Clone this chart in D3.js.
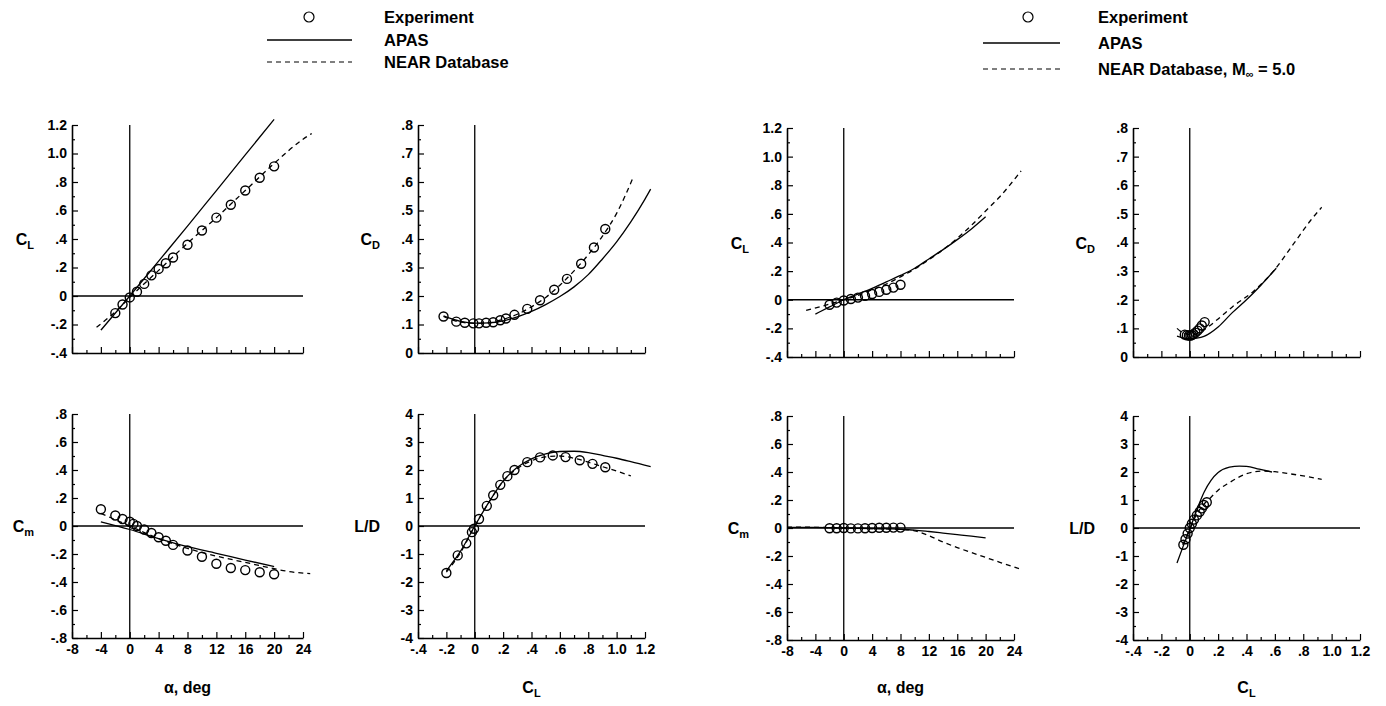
<!DOCTYPE html>
<html><head><meta charset="utf-8">
<script src="https://cdn.jsdelivr.net/npm/d3@7"></script>
<style>
body{margin:0;background:#fff}
text{font-family:"Liberation Sans",Arial,Helvetica,sans-serif;font-weight:bold;fill:#000}
</style>
</head><body><svg id="c" width="1386" height="706"></svg>
<script>
// ---------- tick values ----------
const alphaTicks = [-8,-4,0,4,8,12,16,20,24];
const alphaMinor = [-6,-2,2,6,10,14,18,22];
const clXTicks = [-0.4,-0.2,0,0.2,0.4,0.6,0.8,1.0,1.2];
const clXMinor = [-0.3,-0.1,0.1,0.3,0.5,0.7,0.9,1.1];
const clYTicks = [-0.4,-0.2,0,0.2,0.4,0.6,0.8,1.0,1.2];
const clYMinor = [-0.3,-0.1,0.1,0.3,0.5,0.7,0.9,1.1];
const cdTicks = [0,0.1,0.2,0.3,0.4,0.5,0.6,0.7,0.8];
const cdMinor = [0.05,0.15,0.25,0.35,0.45,0.55,0.65,0.75];
const cmTicks = [-0.8,-0.6,-0.4,-0.2,0,0.2,0.4,0.6,0.8];
const cmMinor = [-0.7,-0.5,-0.3,-0.1,0.1,0.3,0.5,0.7];
const ldTicks = [-4,-3,-2,-1,0,1,2,3,4];
const ldMinor = [-3.5,-2.5,-1.5,-0.5,0.5,1.5,2.5,3.5];

// ---------- left configuration ----------
// CL vs alpha
const aExpAlpha = [-2,-1,0,1,2,3,4,5,6,8,10,12,14,16,18,20];
const aExpCL    = [-0.12,-0.06,-0.01,0.03,0.085,0.145,0.19,0.23,0.27,0.36,0.46,0.55,0.64,0.74,0.83,0.91];
const aApasAlpha = [-4,0,4,8,12,16,20];
const aApasCL    = [-0.24,0,0.245,0.49,0.74,0.99,1.24];
const aNearAlpha = [-4.6,-2,0,4,8,12,16,20,24,25.2];
const aNearCL    = [-0.22,-0.11,-0.01,0.18,0.37,0.55,0.74,0.93,1.1,1.14];
// CD vs CL
const bExpCL = [-0.22,-0.13,-0.07,-0.01,0.03,0.08,0.13,0.18,0.22,0.28,0.37,0.46,0.56,0.65,0.75,0.84,0.92];
const bExpCD = [0.128,0.11,0.106,0.104,0.104,0.106,0.108,0.115,0.121,0.134,0.155,0.185,0.222,0.26,0.313,0.37,0.435];
const bApasCL = [-0.22,-0.1,0,0.1,0.2,0.3,0.4,0.5,0.6,0.7,0.8,0.9,1.0,1.1,1.2,1.24];
const bApasCD = [0.13,0.111,0.105,0.106,0.113,0.127,0.146,0.17,0.198,0.232,0.275,0.33,0.39,0.46,0.54,0.575];
const bNearCL = [-0.22,-0.1,0,0.1,0.2,0.3,0.4,0.5,0.6,0.7,0.8,0.9,1.0,1.12];
const bNearCD = [0.128,0.108,0.104,0.106,0.118,0.136,0.162,0.195,0.238,0.288,0.345,0.41,0.49,0.62];
// Cm vs alpha
const cExpAlpha = [-4,-2,-1,0,0.5,1,2,3,4,5,6,8,10,12,14,16,18,20];
const cExpCm    = [0.12,0.075,0.05,0.03,0.015,0.0,-0.025,-0.05,-0.08,-0.105,-0.135,-0.175,-0.22,-0.27,-0.3,-0.315,-0.33,-0.345];
const cApasAlpha = [-4,0,4,8,12,16,20];
const cApasCm    = [0.03,-0.025,-0.09,-0.148,-0.195,-0.243,-0.29];
const cNearAlpha = [-4,0,4,8,12,16,20,22,25];
const cNearCm    = [0.09,0.0,-0.09,-0.16,-0.215,-0.26,-0.305,-0.325,-0.34];
// L/D vs CL
const dExpCL = [-0.2,-0.12,-0.06,-0.02,-0.005,0.03,0.085,0.13,0.18,0.23,0.28,0.37,0.46,0.55,0.64,0.74,0.83,0.92];
const dExpLD = [-1.68,-1.05,-0.62,-0.22,-0.1,0.25,0.72,1.1,1.47,1.78,2.0,2.28,2.45,2.52,2.46,2.35,2.22,2.1];
const dApasCL = [-0.2,-0.1,0,0.1,0.2,0.3,0.4,0.5,0.6,0.7,0.8,0.9,1.0,1.1,1.24];
const dApasLD = [-1.6,-0.9,0.0,0.85,1.6,2.1,2.4,2.58,2.66,2.67,2.62,2.52,2.42,2.3,2.12];
const dNearCL = [-0.2,-0.1,0,0.1,0.2,0.3,0.4,0.5,0.6,0.7,0.8,0.9,1.0,1.1];
const dNearLD = [-1.65,-0.95,0,0.85,1.6,2.05,2.33,2.47,2.5,2.42,2.28,2.12,1.96,1.79];

// ---------- right configuration (M = 5.0) ----------
const eExpAlpha = [-2,-1,0,1,2,3,4,5,6,7,8];
const eExpCL    = [-0.035,-0.02,-0.005,0.005,0.015,0.027,0.04,0.055,0.07,0.085,0.105];
const eApasAlpha = [-4,-2,0,2,4,6,8,10,12,14,16,18,20];
const eApasCL    = [-0.1,-0.05,0,0.04,0.08,0.125,0.17,0.22,0.285,0.35,0.42,0.495,0.58];
const eNearAlpha = [-5.3,-2,0,2,4,6,8,10,12,14,16,18,20,22,25];
const eNearCL    = [-0.075,-0.03,0,0.03,0.07,0.11,0.16,0.215,0.28,0.35,0.43,0.52,0.62,0.72,0.9];

const fExpCL = [-0.035,-0.02,-0.005,0.005,0.015,0.027,0.04,0.055,0.07,0.085,0.105];
const fExpCD = [0.078,0.076,0.075,0.075,0.077,0.08,0.085,0.092,0.1,0.11,0.122];
const fApasCL = [-0.09,-0.05,0,0.05,0.1,0.2,0.3,0.4,0.5,0.61];
const fApasCD = [0.073,0.067,0.064,0.066,0.072,0.105,0.155,0.2,0.25,0.31];
const fNearCL = [-0.09,-0.05,0,0.05,0.1,0.2,0.3,0.45,0.59,0.73,0.85,0.93];
const fNearCD = [0.1,0.085,0.078,0.082,0.095,0.133,0.175,0.23,0.3,0.394,0.476,0.523];

const gExpAlpha = [-2,-1,0,1,2,3,4,5,6,7,8];
const gExpCm    = [-0.002,-0.002,0,-0.003,-0.003,-0.002,0,0.002,0.002,0.003,0.003];
const gApasAlpha = [-8,-4,0,4,8,10,12,14,16,18,20];
const gApasCm    = [0.004,0.004,0,-0.004,-0.009,-0.015,-0.025,-0.036,-0.047,-0.058,-0.07];
const gNearAlpha = [-8,-4,0,4,8,10,12,14,16,18,20,22,24.7];
const gNearCm    = [0.006,0.005,0,-0.004,-0.01,-0.02,-0.055,-0.1,-0.14,-0.175,-0.21,-0.245,-0.29];

const hExpCL = [-0.045,-0.03,-0.015,0,0.015,0.03,0.05,0.07,0.085,0.1,0.12];
const hExpLD = [-0.6,-0.4,-0.2,0.0,0.15,0.3,0.45,0.58,0.7,0.82,0.92];
const hApasCL = [-0.09,-0.05,0,0.05,0.1,0.15,0.2,0.28,0.35,0.4,0.49,0.58];
const hApasLD = [-1.25,-0.7,-0.05,0.65,1.27,1.7,1.98,2.17,2.21,2.2,2.1,2.0];
const hNearCL = [-0.05,0,0.05,0.1,0.15,0.2,0.28,0.39,0.5,0.6,0.7,0.8,0.93];
const hNearLD = [-0.6,-0.05,0.5,0.85,1.1,1.35,1.62,1.92,2.03,2.01,1.94,1.86,1.74];

// legend labels
const legendLeft = ["Experiment","APAS","NEAR Database"];
const legendRight = ["Experiment","APAS","NEAR Database, M"];

// ---------- drawing ----------
const svg = d3.select('#c');
function fmtDec(v){
  if (Math.abs(v) < 1e-9) return '0';
  let s = Math.abs(v).toFixed(1).replace(/^0\./,'.');
  return (v < 0 ? '-' : '') + s;
}
function fmtInt(v){ return (v<0?'-':'') + Math.abs(v); }
const noFmt = () => '';

function title(g, x, y, main, sub, anchor){
  const t = g.append('text').attr('x',x).attr('y',y).attr('text-anchor',anchor).style('font-size','16px');
  t.append('tspan').text(main);
  if (sub) t.append('tspan').attr('dy',4).style('font-size','11px').text(sub);
  return t;
}

function panel(p){
  const x = d3.scaleLinear().domain(p.xDom).range([p.x0,p.x1]);
  const y = d3.scaleLinear().domain(p.yDom).range([p.y1,p.y0]);
  const g = svg.append('g');
  g.append('g').attr('transform',`translate(${p.x0},0)`)
    .call(d3.axisLeft(y).tickValues(p.yMinor).tickSize(-3).tickFormat(''))
    .call(s=>s.select('.domain').remove());
  g.append('g').attr('transform',`translate(0,${p.y1})`)
    .call(d3.axisBottom(x).tickValues(p.xMinor).tickSize(-3).tickFormat(''))
    .call(s=>s.select('.domain').remove());
  const ay = g.append('g').attr('transform',`translate(${p.x0},0)`)
    .call(d3.axisLeft(y).tickValues(p.yTicks).tickSizeInner(-6).tickSizeOuter(0).tickPadding(5).tickFormat(p.yFmt));
  const ax = g.append('g').attr('transform',`translate(0,${p.y1})`)
    .call(d3.axisBottom(x).tickValues(p.xTicks).tickSizeInner(-6).tickSizeOuter(0).tickPadding(6).tickFormat(p.xLabels ? p.xFmt : noFmt));
  [ay,ax].forEach(a=>{
    a.attr('font-family',null).attr('font-size',null);
    a.selectAll('text').style('font-size','14px').attr('fill','#000');
    a.select('.domain').attr('stroke','#000').attr('stroke-width',1.6);
  });
  g.selectAll('.tick line').attr('stroke','#000').attr('stroke-width',1.2);
  g.append('line').attr('x1',x(0)).attr('x2',x(0)).attr('y1',p.y0).attr('y2',p.y1)
    .attr('stroke','#000').attr('stroke-width',1.3);
  if (p.yDom[0] < 0) g.append('line').attr('x1',p.x0).attr('x2',p.x1).attr('y1',y(0)).attr('y2',y(0))
    .attr('stroke','#000').attr('stroke-width',1.3);
  title(g, p.x0-38, (p.y0+p.y1)/2+6, p.yT[0], p.yT[1], 'end');
  if (p.xT) title(g, (p.x0+p.x1)/2, 693, p.xT[0], p.xT[1], 'middle');
  const line = d3.line().x(d=>x(d[0])).y(d=>y(d[1])).curve(d3.curveMonotoneX);
  g.append('path').datum(d3.zip(p.apas[0],p.apas[1])).attr('d',line)
    .attr('fill','none').attr('stroke','#000').attr('stroke-width',1.3);
  g.append('path').datum(d3.zip(p.near[0],p.near[1])).attr('d',line)
    .attr('fill','none').attr('stroke','#000').attr('stroke-width',1.3).attr('stroke-dasharray','5,4');
  g.selectAll('circle.e').data(d3.zip(p.exp[0],p.exp[1])).join('circle')
    .attr('cx',d=>x(d[0])).attr('cy',d=>y(d[1])).attr('r',4.5)
    .attr('fill','none').attr('stroke','#000').attr('stroke-width',1.4);
}

const L = {x0:72,x1:303}, LB={x0:418,x1:645}, R={x0:787,x1:1014}, RB={x0:1133,x1:1360};
const TOPL={y0:125,y1:353}, BOTL={y0:414,y1:638}, TOPR={y0:128,y1:357}, BOTR={y0:416,y1:640};

const alphaAx = {xDom:[-8,24], xTicks:alphaTicks, xMinor:alphaMinor, xFmt:fmtInt};
const clAx = {xDom:[-0.4,1.2], xTicks:clXTicks, xMinor:clXMinor, xFmt:fmtDec};

panel({...L,...TOPL,...alphaAx, yDom:[-0.4,1.2], yTicks:clYTicks, yMinor:clYMinor, yFmt:fmtDec, yT:['C','L'],
  exp:[aExpAlpha,aExpCL], apas:[aApasAlpha,aApasCL], near:[aNearAlpha,aNearCL]});
panel({...LB,...TOPL,...clAx, yDom:[0,0.8], yTicks:cdTicks, yMinor:cdMinor, yFmt:fmtDec, yT:['C','D'],
  exp:[bExpCL,bExpCD], apas:[bApasCL,bApasCD], near:[bNearCL,bNearCD]});
panel({...L,...BOTL,...alphaAx, xLabels:true, yDom:[-0.8,0.8], yTicks:cmTicks, yMinor:cmMinor, yFmt:fmtDec, yT:['C','m'], xT:['α, deg',null],
  exp:[cExpAlpha,cExpCm], apas:[cApasAlpha,cApasCm], near:[cNearAlpha,cNearCm]});
panel({...LB,...BOTL,...clAx, xLabels:true, yDom:[-4,4], yTicks:ldTicks, yMinor:ldMinor, yFmt:fmtInt, yT:['L/D',null], xT:['C','L'],
  exp:[dExpCL,dExpLD], apas:[dApasCL,dApasLD], near:[dNearCL,dNearLD]});

panel({...R,...TOPR,...alphaAx, yDom:[-0.4,1.2], yTicks:clYTicks, yMinor:clYMinor, yFmt:fmtDec, yT:['C','L'],
  exp:[eExpAlpha,eExpCL], apas:[eApasAlpha,eApasCL], near:[eNearAlpha,eNearCL]});
panel({...RB,...TOPR,...clAx, yDom:[0,0.8], yTicks:cdTicks, yMinor:cdMinor, yFmt:fmtDec, yT:['C','D'],
  exp:[fExpCL,fExpCD], apas:[fApasCL,fApasCD], near:[fNearCL,fNearCD]});
panel({...R,...BOTR,...alphaAx, xLabels:true, yDom:[-0.8,0.8], yTicks:cmTicks, yMinor:cmMinor, yFmt:fmtDec, yT:['C','m'], xT:['α, deg',null],
  exp:[gExpAlpha,gExpCm], apas:[gApasAlpha,gApasCm], near:[gNearAlpha,gNearCm]});
panel({...RB,...BOTR,...clAx, xLabels:true, yDom:[-4,4], yTicks:ldTicks, yMinor:ldMinor, yFmt:fmtInt, yT:['L/D',null], xT:['C','L'],
  exp:[hExpCL,hExpLD], apas:[hApasCL,hApasLD], near:[hNearCL,hNearLD]});

function legend(lx0, lx1, cx, tx, ys, labels, mach){
  const g = svg.append('g');
  g.append('circle').attr('cx',cx).attr('cy',ys[0]).attr('r',5).attr('fill','none').attr('stroke','#000').attr('stroke-width',1.2);
  g.append('line').attr('x1',lx0).attr('x2',lx1).attr('y1',ys[1]).attr('y2',ys[1]).attr('stroke','#000').attr('stroke-width',1.3);
  g.append('line').attr('x1',lx0).attr('x2',lx1).attr('y1',ys[2]).attr('y2',ys[2]).attr('stroke','#000').attr('stroke-width',1.2).attr('stroke-dasharray','5,4');
  labels.forEach((s,i)=>{
    const t = g.append('text').attr('x',tx).attr('y',ys[i]+6).style('font-size','16.5px');
    t.append('tspan').text(s);
    if (mach && i===2){
      t.append('tspan').attr('dy',3).style('font-size','11px').text('∞');
      t.append('tspan').attr('dy',-3).text(' = 5.0');
    }
  });
}
legend(267, 352, 309, 384, [17,40,62], legendLeft, false);
legend(983, 1060, 1028, 1098, [17,43,69], legendRight, true);
</script></body></html>
